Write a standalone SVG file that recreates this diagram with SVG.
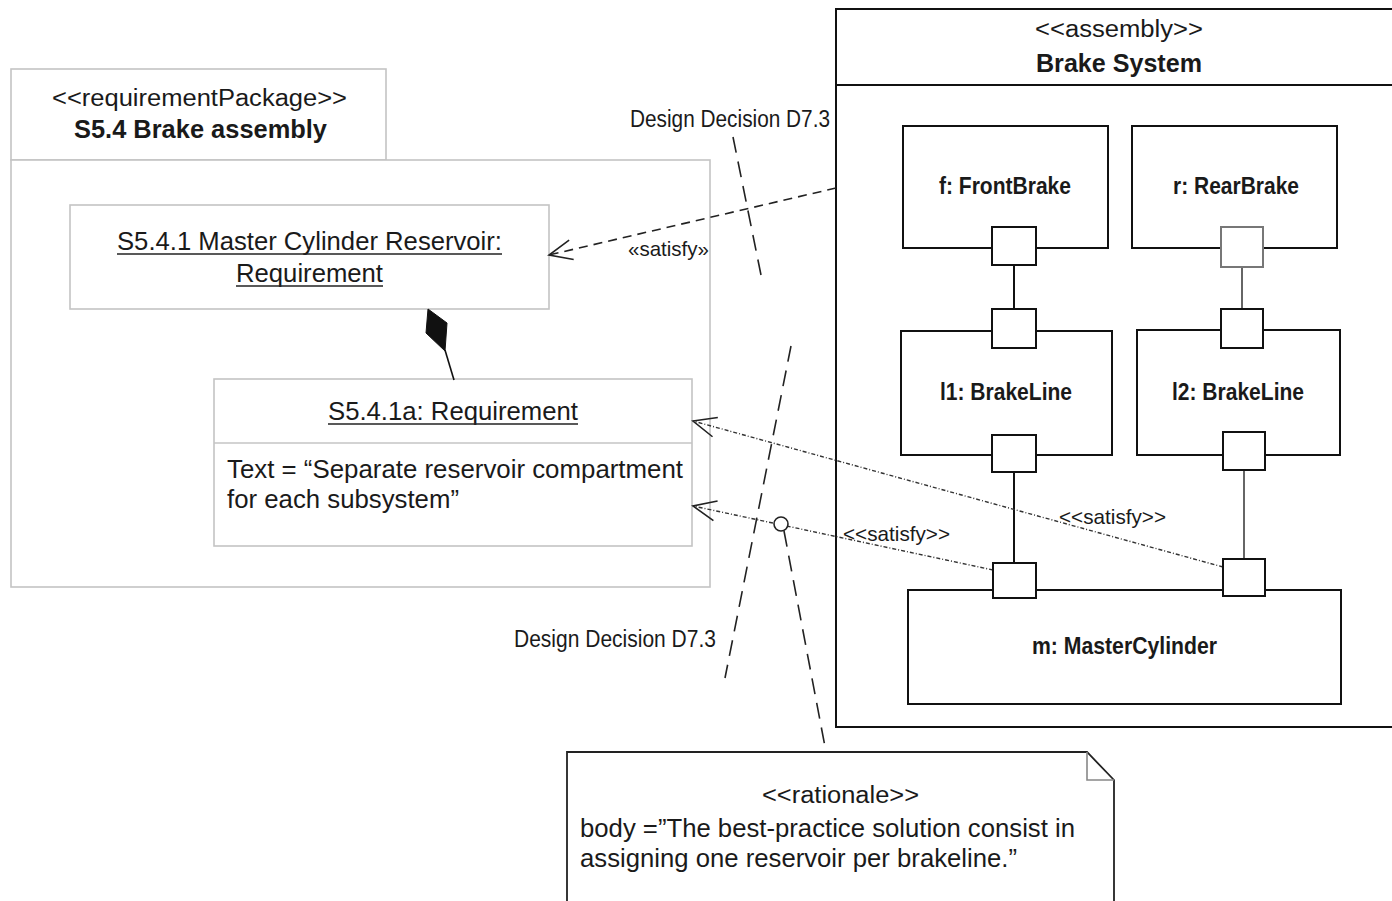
<svg xmlns="http://www.w3.org/2000/svg" width="1392" height="901" viewBox="0 0 1392 901">
  <style>
    text { font-family: "Liberation Sans", Arial, sans-serif; fill: #1a1a1a; }
    .pkg { fill: #fff; stroke: #c4c4c4; stroke-width: 1.6; }
    .req { fill: #fff; stroke: #c4c4c4; stroke-width: 1.6; }
    .blk { fill: #fff; stroke: #111; stroke-width: 2; }
    .port { fill: #fff; stroke: #111; stroke-width: 2; }
    .wire { stroke: #111; stroke-width: 2; fill: none; }
    .sat1 { stroke: #222; stroke-width: 1.6; fill: none; stroke-dasharray: 9 6; }
    .sat2 { stroke: #333; stroke-width: 1.4; fill: none; stroke-dasharray: 4 2 1 2; }
    .dd { stroke: #222; stroke-width: 1.6; fill: none; stroke-dasharray: 16 9; }
    .st { font-size: 23px; }
    .lbl { font-size: 25px; }
    .nar { font-size: 24px; font-weight: bold; }
    .cut { font-size: 23px; }
    .sat { font-size: 21px; }
    .bold { font-weight: bold; }
    .ul { stroke: #222; stroke-width: 1.5; }
  </style>
  <defs>
    <marker id="open" markerUnits="userSpaceOnUse" markerWidth="28" markerHeight="24" viewBox="0 0 28 24" refX="26" refY="12" orient="auto">
      <path d="M3,2 L26,12 L3,22" fill="none" stroke="#222" stroke-width="1.6"/>
    </marker>
  </defs>

  <rect width="1392" height="901" fill="#fff"/>

  <!-- requirement package -->
  <g id="pkg-brake-assembly">
    <rect class="pkg" x="11" y="69" width="375" height="91"/>
    <rect class="pkg" x="11" y="160" width="699" height="427"/>
    <text class="st" x="52" y="106" textLength="295" lengthAdjust="spacingAndGlyphs">&lt;&lt;requirementPackage&gt;&gt;</text>
    <text class="lbl bold" x="74" y="138" textLength="253" lengthAdjust="spacingAndGlyphs">S5.4 Brake assembly</text>
  </g>

  <g id="req-master-cylinder-reservoir">
    <rect class="req" x="70" y="205" width="479" height="104"/>
    <text class="lbl" x="117" y="250" textLength="385" lengthAdjust="spacingAndGlyphs">S5.4.1 Master Cylinder Reservoir:</text>
    <line class="ul" x1="117" y1="254" x2="502" y2="254"/>
    <text class="lbl" x="236" y="282" textLength="147" lengthAdjust="spacingAndGlyphs">Requirement</text>
    <line class="ul" x1="236" y1="286" x2="383" y2="286"/>
  </g>

  <g id="req-s541a">
    <rect class="req" x="214" y="379" width="478" height="167"/>
    <line x1="214" y1="443" x2="692" y2="443" stroke="#c4c4c4" stroke-width="1.6"/>
    <text class="lbl" x="328" y="420" textLength="250" lengthAdjust="spacingAndGlyphs">S5.4.1a: Requirement</text>
    <line class="ul" x1="328" y1="424" x2="578" y2="424"/>
    <text class="lbl" x="227" y="478" textLength="456" lengthAdjust="spacingAndGlyphs">Text = “Separate reservoir compartment</text>
    <text class="lbl" x="227" y="508" textLength="232" lengthAdjust="spacingAndGlyphs">for each subsystem”</text>
  </g>

  <!-- assembly block -->
  <g id="brake-system">
    <rect x="836" y="9" width="570" height="718" fill="#fff" stroke="#111" stroke-width="2"/>
    <line x1="836" y1="85" x2="1392" y2="85" stroke="#111" stroke-width="2"/>
    <text class="st" x="1035" y="37" textLength="168" lengthAdjust="spacingAndGlyphs">&lt;&lt;assembly&gt;&gt;</text>
    <text class="lbl bold" x="1036" y="72" textLength="166" lengthAdjust="spacingAndGlyphs">Brake System</text>
  </g>

  <g id="front-brake">
    <rect class="blk" x="903" y="126" width="205" height="122"/>
    <text class="nar" x="939" y="194" textLength="132" lengthAdjust="spacingAndGlyphs">f: FrontBrake</text>
  </g>
  <g id="rear-brake">
    <rect class="blk" x="1132" y="126" width="205" height="122"/>
    <text class="nar" x="1173" y="194" textLength="126" lengthAdjust="spacingAndGlyphs">r: RearBrake</text>
  </g>
  <g id="brake-line-1">
    <rect class="blk" x="901" y="331" width="211" height="124"/>
    <text class="nar" x="940" y="400" textLength="132" lengthAdjust="spacingAndGlyphs">l1: BrakeLine</text>
  </g>
  <g id="brake-line-2">
    <rect class="blk" x="1137" y="330" width="203" height="125"/>
    <text class="nar" x="1172" y="400" textLength="132" lengthAdjust="spacingAndGlyphs">l2: BrakeLine</text>
  </g>
  <g id="master-cylinder">
    <rect class="blk" x="908" y="590" width="433" height="114"/>
    <text class="nar" x="1032" y="654" textLength="185" lengthAdjust="spacingAndGlyphs">m: MasterCylinder</text>
  </g>

  <!-- connectors -->
  <g id="connectors">
    <!-- composition -->
    <line x1="445" y1="350" x2="454" y2="380" stroke="#111" stroke-width="1.6"/>
    <path d="M428,309 L447,323 L445,351 L426,333 Z" fill="#111" stroke="#111" stroke-width="1"/>

    <!-- part connectors -->
    <line class="wire" x1="1014" y1="265" x2="1014" y2="309"/>
    <line x1="1242" y1="267" x2="1242" y2="309" stroke="#666" stroke-width="2"/>
    <line class="wire" x1="1014" y1="472" x2="1014" y2="563"/>
    <line x1="1244" y1="470" x2="1244" y2="559" stroke="#666" stroke-width="2"/>

    <!-- satisfy dependencies -->
    <line class="sat1" x1="836" y1="188" x2="549" y2="255" marker-end="url(#open)"/>
    <text class="sat" x="628" y="256" textLength="81" lengthAdjust="spacingAndGlyphs">«satisfy»</text>
    <line class="sat2" x1="1223" y1="567" x2="693" y2="421" marker-end="url(#open)"/>
    <text class="sat" x="1059" y="524" textLength="107" lengthAdjust="spacingAndGlyphs">&lt;&lt;satisfy&gt;&gt;</text>
    <line class="sat2" x1="993" y1="570" x2="693" y2="506" marker-end="url(#open)"/>
    <text class="sat" x="843" y="541" textLength="107" lengthAdjust="spacingAndGlyphs">&lt;&lt;satisfy&gt;&gt;</text>

    <!-- design decision cut lines -->
    <line class="dd" x1="733" y1="137" x2="761" y2="275"/>
    <text class="cut" x="630" y="127" textLength="200" lengthAdjust="spacingAndGlyphs">Design Decision D7.3</text>
    <line class="dd" x1="791" y1="346" x2="725" y2="678"/>
    <text class="cut" x="514" y="647" textLength="202" lengthAdjust="spacingAndGlyphs">Design Decision D7.3</text>

    <!-- rationale anchor -->
    <circle cx="781" cy="524" r="7" fill="#fff" stroke="#222" stroke-width="1.6"/>
    <line class="dd" x1="784" y1="531" x2="826" y2="752" stroke-dasharray="10 6"/>
  </g>

  <!-- rationale note -->
  <g id="rationale">
    <path d="M567,905 L567,752 L1087,752 L1114,780 L1114,905" fill="#fff" stroke="#222" stroke-width="1.8"/>
    <path d="M1087,752 L1087,780 L1114,780" fill="none" stroke="#888" stroke-width="1.6"/>
    <text class="st" x="762" y="803" textLength="157" lengthAdjust="spacingAndGlyphs">&lt;&lt;rationale&gt;&gt;</text>
    <text class="lbl" x="580" y="837" textLength="495" lengthAdjust="spacingAndGlyphs">body =”The best-practice solution consist in</text>
    <text class="lbl" x="580" y="867" textLength="437" lengthAdjust="spacingAndGlyphs">assigning one reservoir per brakeline.”</text>
  </g>

  <!-- ports, drawn over connectors -->
  <g id="ports">
    <rect class="port" x="992" y="227" width="44" height="38"/>
    <rect x="1221" y="227" width="42" height="40" fill="#fff" stroke="#777" stroke-width="2"/>
    <rect class="port" x="992" y="309" width="44" height="39"/>
    <rect class="port" x="1221" y="309" width="42" height="39"/>
    <rect class="port" x="992" y="435" width="44" height="37"/>
    <rect class="port" x="1223" y="432" width="42" height="38"/>
    <rect class="port" x="993" y="563" width="43" height="35"/>
    <rect class="port" x="1223" y="559" width="42" height="37"/>
  </g>
</svg>
